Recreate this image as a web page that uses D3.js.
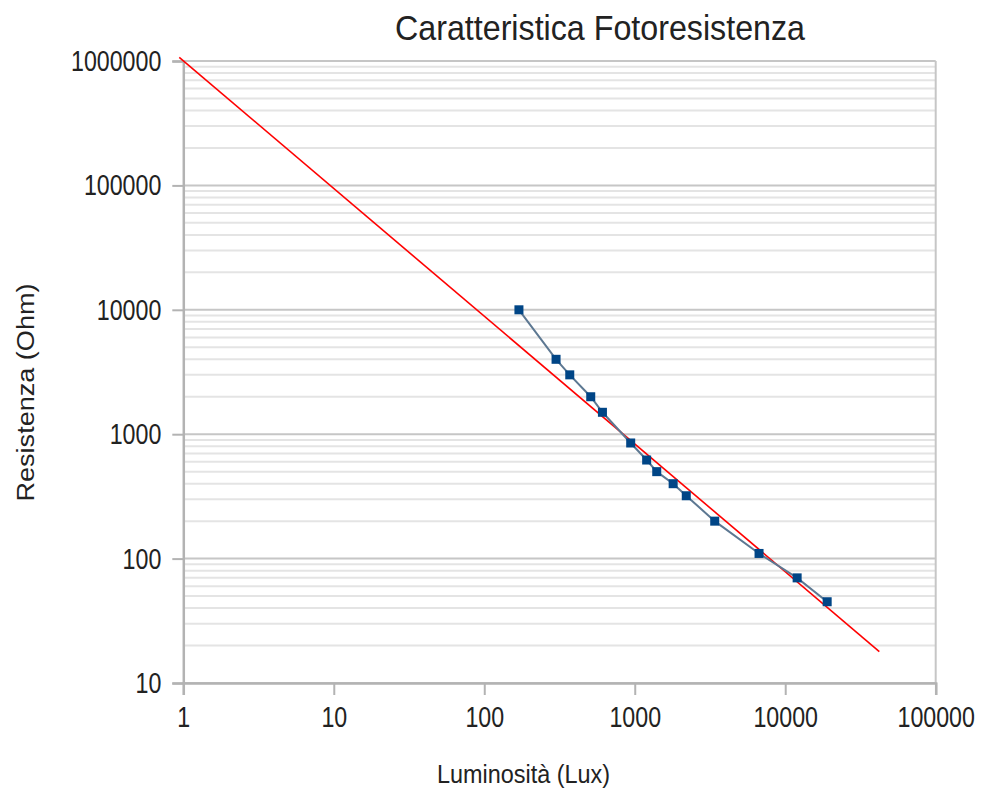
<!DOCTYPE html>
<html>
<head>
<meta charset="utf-8">
<script src="https://cdn.jsdelivr.net/npm/d3@7"></script>
<style>
  html, body { margin: 0; padding: 0; background: #fff; }
  svg { display: block; font-family: "Liberation Sans", Arial, sans-serif; }
</style>
</head>
<body>
<div class="chart"></div>
<script>
// Dimensions
const width = 993;
const height = 792;
const plot = { left: 183.3, right: 935.7, top: 61, bottom: 683 };

// Données mesurées (luminosité en lux, résistance en ohm)
const luxValues = [170, 300, 370, 510, 610, 940, 1200, 1400, 1800, 2200, 3400, 6700, 12000, 19000];
const ohmValues = [10000, 4000, 3000, 2000, 1500, 850, 620, 500, 400, 320, 200, 110, 70, 45];

// Droite rouge (caractéristique de référence)
const refLux = [0.94, 42200];
const refOhm = [1070000, 17.9];

// Graduations
const xTickValues = [1, 10, 100, 1000, 10000, 100000];
const yTickValues = [10, 100, 1000, 10000, 100000, 1000000];

// Textes
const title = 'Caratteristica Fotoresistenza';
const xTitle = 'Luminosità (Lux)';
const yTitle = 'Resistenza (Ohm)';

const measured = luxValues.map((l, i) => ({ lux: l, ohm: ohmValues[i] }));
const reference = refLux.map((l, i) => ({ lux: l, ohm: refOhm[i] }));

const svg = d3.select('.chart')
  .append('svg')
  .attr('width', width)
  .attr('height', height);

// Echelles logarithmiques
const x = d3.scaleLog()
  .domain([1, 100000])
  .range([plot.left, plot.right]);

const y = d3.scaleLog()
  .domain([10, 1000000])
  .range([plot.bottom, plot.top]);

// Grille secondaire (2..9 de chaque décade)
const minorTicks = y.ticks().filter(v => !yTickValues.includes(v));
svg.append('g')
  .selectAll('line')
  .data(minorTicks)
  .join('line')
    .attr('x1', plot.left)
    .attr('x2', plot.right)
    .attr('y1', d => y(d))
    .attr('y2', d => y(d))
    .attr('stroke', '#e4e4e4')
    .attr('stroke-width', 2);

// Grille principale
svg.append('g')
  .selectAll('line')
  .data(yTickValues)
  .join('line')
    .attr('x1', plot.left)
    .attr('x2', plot.right)
    .attr('y1', d => y(d))
    .attr('y2', d => y(d))
    .attr('stroke', '#c6c6c6')
    .attr('stroke-width', 2);

// Bord droit
svg.append('line')
  .attr('x1', plot.right).attr('x2', plot.right)
  .attr('y1', plot.top).attr('y2', plot.bottom)
  .attr('stroke', '#c6c6c6')
  .attr('stroke-width', 2);

// Axe vertical
const digitWidth = 12.9;
svg.append('g')
  .attr('transform', `translate(${plot.left}, 0)`)
  .call(d3.axisLeft(y).tickValues(yTickValues).tickSize(11).tickPadding(11).tickFormat(d3.format('d')))
  .call(g => g.select('.domain').attr('stroke', '#b3b3b3').attr('stroke-width', 2.5))
  .call(g => g.selectAll('.tick line').attr('stroke', '#b3b3b3').attr('stroke-width', 2))
  .call(g => g.selectAll('.tick text')
    .attr('font-size', 29)
    .attr('fill', '#222')
    .attr('dy', '0.33em')
    .attr('textLength', d => String(d).length * digitWidth)
    .attr('lengthAdjust', 'spacingAndGlyphs'));

// Axe horizontal
svg.append('g')
  .attr('transform', `translate(0, ${plot.bottom})`)
  .call(d3.axisBottom(x).tickValues(xTickValues).tickSize(12).tickPadding(11).tickFormat(d3.format('d')))
  .call(g => g.select('.domain').attr('stroke', '#b3b3b3').attr('stroke-width', 2.5))
  .call(g => g.selectAll('.tick line').attr('stroke', '#b3b3b3').attr('stroke-width', 2))
  .call(g => g.selectAll('.tick text')
    .attr('font-size', 29)
    .attr('fill', '#222')
    .attr('textLength', d => String(d).length * digitWidth)
    .attr('lengthAdjust', 'spacingAndGlyphs'));

// Droite rouge
const line = d3.line()
  .x(d => x(d.lux))
  .y(d => y(d.ohm));

svg.append('path')
  .datum(reference)
  .attr('d', line)
  .attr('fill', 'none')
  .attr('stroke', '#ff0000')
  .attr('stroke-width', 1.6);

// Série mesurée
svg.append('path')
  .datum(measured)
  .attr('d', line)
  .attr('fill', 'none')
  .attr('stroke', '#5d7892')
  .attr('stroke-width', 2);

const markerSize = 9;
svg.append('g')
  .selectAll('rect')
  .data(measured)
  .join('rect')
    .attr('x', d => x(d.lux) - markerSize / 2)
    .attr('y', d => y(d.ohm) - markerSize / 2)
    .attr('width', markerSize)
    .attr('height', markerSize)
    .attr('fill', '#004586');

// Titres
svg.append('text')
  .attr('x', 600)
  .attr('y', 39.5)
  .attr('text-anchor', 'middle')
  .attr('font-size', 35)
  .attr('fill', '#222')
  .attr('textLength', 410)
  .attr('lengthAdjust', 'spacingAndGlyphs')
  .text(title);

svg.append('text')
  .attr('x', 523.5)
  .attr('y', 783)
  .attr('text-anchor', 'middle')
  .attr('font-size', 25)
  .attr('fill', '#222')
  .attr('textLength', 173)
  .attr('lengthAdjust', 'spacingAndGlyphs')
  .text(xTitle);

svg.append('text')
  .attr('transform', 'translate(33.5, 392.5) rotate(-90)')
  .attr('text-anchor', 'middle')
  .attr('font-size', 23)
  .attr('fill', '#222')
  .attr('textLength', 218)
  .attr('lengthAdjust', 'spacingAndGlyphs')
  .text(yTitle);
</script>
</body>
</html>
